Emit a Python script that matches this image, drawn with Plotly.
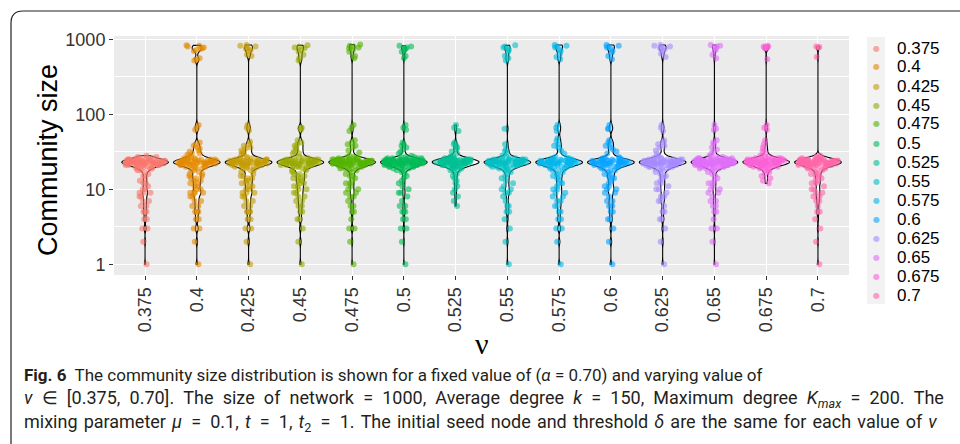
import numpy as np
import plotly.graph_objects as go

# nu values (x categories)
nu_levels = ["0.375", "0.4", "0.425", "0.45", "0.475", "0.5", "0.525",
             "0.55", "0.575", "0.6", "0.625", "0.65", "0.675", "0.7"]

# ggplot2 default hue palette for 14 groups
level_colors = ["#F8766D", "#E38900", "#C49A00", "#99A800", "#53B400", "#00BC56", "#00C094",
                "#00BFC4", "#00B6EB", "#06A4FF", "#A58AFF", "#DF70F8", "#FB61D7", "#FF66A8"]

# community sizes found for each nu
sizes_0375 = [1, 2, 3, 3, 4, 4, 5, 5, 5, 6, 6, 7, 7, 8, 8, 9, 9, 9, 10, 10, 11, 12, 12, 13, 14, 15, 16,
              17, 18, 18, 19, 19, 19, 20, 20, 20, 20, 20, 21, 21, 21, 21, 21, 21, 21, 21,
              22, 22, 22, 22, 22, 22, 22, 22, 22, 22, 22,
              23, 23, 23, 23, 23, 23, 23, 23, 23, 23, 23, 23, 23, 23,
              24, 24, 24, 24, 24, 24, 24, 24, 24, 24, 24,
              25, 25, 25, 25, 25, 25, 25, 26, 26, 26, 26, 27, 27, 28]
sizes_0400 = [1, 2, 3, 3, 4, 4, 5, 5, 5, 6, 6, 7, 7, 8, 8, 9, 9, 9, 9, 10, 10, 11, 11, 12, 12, 13, 13,
              14, 14, 15, 15, 16, 16,
              17, 18, 18, 19, 19, 20, 20, 20, 20, 21, 21, 21, 21, 21, 21,
              22, 22, 22, 22, 22, 22, 22, 22, 23, 23, 23, 23, 23, 23, 23, 23, 23, 23,
              24, 24, 24, 24, 24, 24, 24, 24, 25, 25, 25, 25, 25, 26, 26, 26, 27,
              28, 29, 30, 30, 32, 33, 35, 36, 38, 40, 42, 62, 66, 72,
              520, 540, 560, 700, 720, 740, 760, 780, 800, 820, 830]
sizes_0425 = [1, 2, 3, 3, 4, 4, 5, 5, 5, 6, 6, 7, 7, 8, 8, 9, 9, 9, 10, 10, 11, 11, 12, 12, 13, 13,
              14, 14, 15, 15, 16,
              17, 18, 18, 19, 19, 20, 20, 20, 20, 21, 21, 21, 21, 21, 21,
              22, 22, 22, 22, 22, 22, 22, 22, 23, 23, 23, 23, 23, 23, 23, 23, 23, 23,
              24, 24, 24, 24, 24, 24, 24, 24, 25, 25, 25, 25, 25, 26, 26, 26, 27,
              29, 30, 31, 33, 35, 36, 38, 40, 43, 61, 66, 72,
              600, 620, 700, 720, 750, 780, 800, 820, 840]
sizes_0450 = [1, 2, 3, 4, 4, 5, 5, 6, 6, 7, 7, 8, 8, 9, 9, 10, 10, 11, 11, 12, 12, 13, 13, 14, 14,
              15, 15, 16, 16,
              17, 18, 18, 19, 19, 20, 20, 20, 20, 21, 21, 21, 21, 21, 21,
              22, 22, 22, 22, 22, 22, 22, 22, 23, 23, 23, 23, 23, 23, 23, 23, 23, 23,
              24, 24, 24, 24, 24, 24, 24, 24, 25, 25, 25, 25, 25, 26, 26, 26, 27,
              30, 30, 32, 34, 36, 38, 40, 42, 45, 62, 66, 66,
              520, 560, 620, 680, 720, 760, 780, 800, 830]
sizes_0475 = [1, 2, 3, 3, 4, 5, 5, 6, 6, 7, 8, 8, 9, 9, 10, 10, 11, 12, 12, 13, 14, 15, 15, 16,
              17, 18, 18, 19, 19, 19, 20, 20, 20, 20, 20, 21, 21, 21, 21, 21, 21, 21, 21,
              22, 22, 22, 22, 22, 22, 22, 22, 22, 22, 22,
              23, 23, 23, 23, 23, 23, 23, 23, 23, 23, 23, 23, 23, 23,
              24, 24, 24, 24, 24, 24, 24, 24, 24, 24, 24,
              25, 25, 25, 25, 25, 25, 25, 26, 26, 26, 26, 27, 27, 28,
              31, 33, 36, 38, 40, 42, 45, 60, 66, 72,
              560, 600, 680, 720, 760, 780, 800, 820, 850]
sizes_0500 = [1, 2, 3, 3, 4, 4, 5, 5, 5, 6, 6, 7, 8, 9, 9, 10, 11, 12, 13, 14, 15, 16,
              17, 18, 18, 19, 19, 19, 19, 20, 20, 20, 20, 20, 20,
              21, 21, 21, 21, 21, 21, 21, 21, 21, 21,
              22, 22, 22, 22, 22, 22, 22, 22, 22, 22, 22, 22, 22, 22, 22,
              23, 23, 23, 23, 23, 23, 23, 23, 23, 23, 23, 23, 23, 23, 23, 23, 23, 23, 23,
              24, 24, 24, 24, 24, 24, 24, 24, 24, 24, 24, 24, 24, 24, 24,
              25, 25, 25, 25, 25, 25, 25, 25, 25, 26, 26, 26, 26, 26, 27, 27, 27, 28,
              30, 32, 34, 36, 38, 40, 42, 62, 66, 72,
              560, 600, 680, 720, 740, 760, 780, 800, 820]
sizes_0525 = [6, 7, 8, 9, 10, 11, 12, 13, 14, 15, 16,
              17, 18, 18, 19, 19, 19, 20, 20, 20, 20, 20, 21, 21, 21, 21, 21, 21, 21, 21,
              22, 22, 22, 22, 22, 22, 22, 22, 22, 22, 22, 22,
              23, 23, 23, 23, 23, 23, 23, 23, 23, 23, 23, 23, 23, 23, 23, 23,
              24, 24, 24, 24, 24, 24, 24, 24, 24, 24, 24, 24,
              25, 25, 25, 25, 25, 25, 25, 25, 26, 26, 26, 26, 26, 27, 27, 28,
              30, 32, 34, 36, 38, 40, 42, 60, 66, 72]
sizes_0550 = [1, 2, 3, 4, 5, 5, 6, 6, 7, 8, 9, 9, 10, 10, 11, 12, 13, 14, 15, 16,
              17, 18, 18, 19, 19, 19, 20, 20, 20, 20, 21, 21, 21, 21, 21, 21, 21,
              22, 22, 22, 22, 22, 22, 22, 22, 22, 22,
              23, 23, 23, 23, 23, 23, 23, 23, 23, 23, 23, 23,
              24, 24, 24, 24, 24, 24, 24, 24, 24, 24,
              25, 25, 25, 25, 25, 25, 26, 26, 26, 27, 28,
              30, 32, 34, 40, 64,
              520, 560, 600, 680, 720, 760, 780, 800, 830]
sizes_0575 = [1, 2, 3, 3, 4, 4, 5, 5, 6, 6, 7, 7, 8, 8, 9, 9, 10, 10, 11, 12, 12, 13, 14, 15, 15, 16,
              17, 18, 18, 19, 19, 20, 20, 20, 20, 21, 21, 21, 21, 21, 21,
              22, 22, 22, 22, 22, 22, 22, 22, 23, 23, 23, 23, 23, 23, 23, 23, 23, 23,
              24, 24, 24, 24, 24, 24, 24, 24, 25, 25, 25, 25, 25, 26, 26, 26, 27,
              30, 33, 36, 38, 40, 44, 48, 60, 66, 72,
              540, 580, 640, 700, 740, 780, 800, 820, 840]
sizes_0600 = [1, 2, 3, 4, 4, 5, 5, 6, 6, 7, 7, 8, 9, 9, 10, 10, 11, 11, 12, 13, 14, 14, 15, 16, 16,
              17, 18, 18, 19, 19, 20, 20, 20, 20, 21, 21, 21, 21, 21, 21,
              22, 22, 22, 22, 22, 22, 22, 22, 23, 23, 23, 23, 23, 23, 23, 23, 23, 23,
              24, 24, 24, 24, 24, 24, 24, 24, 25, 25, 25, 25, 25, 26, 26, 26, 27,
              30, 32, 34, 36, 38, 40, 42, 45, 64, 64, 72,
              540, 600, 660, 700, 740, 780, 800, 820, 840]
sizes_0625 = [1, 2, 3, 4, 4, 5, 5, 6, 7, 7, 8, 8, 9, 10, 10, 11, 12, 12, 13, 14, 15, 15, 16,
              17, 18, 18, 19, 19, 19, 20, 20, 20, 20, 21, 21, 21, 21, 21, 21, 21,
              22, 22, 22, 22, 22, 22, 22, 22, 22, 22,
              23, 23, 23, 23, 23, 23, 23, 23, 23, 23, 23, 23,
              24, 24, 24, 24, 24, 24, 24, 24, 24, 24,
              25, 25, 25, 25, 25, 25, 26, 26, 26, 27, 28,
              30, 33, 36, 38, 40, 42, 45, 60, 66, 72,
              580, 640, 700, 740, 760, 780, 800, 820, 840]
sizes_0650 = [1, 2, 3, 3, 4, 5, 5, 6, 6, 7, 7, 8, 9, 9, 10, 10, 11, 12, 12, 13, 14, 15, 16,
              17, 18, 18, 19, 19, 19, 19, 20, 20, 20, 20, 20, 20,
              21, 21, 21, 21, 21, 21, 21, 21, 21, 21,
              22, 22, 22, 22, 22, 22, 22, 22, 22, 22, 22, 22, 22, 22, 22,
              23, 23, 23, 23, 23, 23, 23, 23, 23, 23, 23, 23, 23, 23, 23, 23, 23, 23, 23,
              24, 24, 24, 24, 24, 24, 24, 24, 24, 24, 24, 24, 24, 24, 24,
              25, 25, 25, 25, 25, 25, 25, 25, 25, 26, 26, 26, 26, 26, 27, 27, 27, 28,
              30, 32, 34, 36, 40, 42, 45, 62, 64, 72,
              560, 620, 700, 740, 780, 800, 820, 840]
sizes_0675 = [12, 13, 14, 15, 16,
              17, 18, 18, 19, 19, 19, 20, 20, 20, 20, 20, 21, 21, 21, 21, 21, 21, 21, 21,
              22, 22, 22, 22, 22, 22, 22, 22, 22, 22, 22, 22,
              23, 23, 23, 23, 23, 23, 23, 23, 23, 23, 23, 23, 23, 23, 23, 23,
              24, 24, 24, 24, 24, 24, 24, 24, 24, 24, 24, 24,
              25, 25, 25, 25, 25, 25, 25, 25, 26, 26, 26, 26, 26, 27, 27, 28,
              30, 32, 34, 36, 40, 45, 62, 66, 72,
              540, 760, 760, 780, 800, 800, 820]
sizes_0700 = [1, 2, 3, 4, 5, 5, 6, 7, 7, 8, 8, 9, 9, 10, 10, 11, 12, 12, 13, 13, 14, 15, 15, 16, 16,
              17, 18, 18, 19, 19, 19, 20, 20, 20, 20, 20, 21, 21, 21, 21, 21, 21, 21, 21,
              22, 22, 22, 22, 22, 22, 22, 22, 22, 22, 22,
              23, 23, 23, 23, 23, 23, 23, 23, 23, 23, 23, 23, 23, 23,
              24, 24, 24, 24, 24, 24, 24, 24, 24, 24, 24,
              25, 25, 25, 25, 25, 25, 25, 26, 26, 26, 26, 27, 27, 28,
              580, 780, 790, 800]

all_sizes = [sizes_0375, sizes_0400, sizes_0425, sizes_0450, sizes_0475, sizes_0500, sizes_0525,
             sizes_0550, sizes_0575, sizes_0600, sizes_0625, sizes_0650, sizes_0675, sizes_0700]

y_tick_values = [1, 10, 100, 1000]
y_tick_labels = ["1", "10", "100", "1000"]

# page geometry (pixels)
W, H = 960, 444
ML, MR, MT, MB = 114, 111, 36, 169
PW, PH = W - ML - MR, H - MT - MB


def px_x(x):
    return (x - ML) / PW


def px_y(y):
    return (H - MB - y) / PH


fig = go.Figure()

# violins + jittered points, with the density estimated on the log10 scale
for level, color, sizes in zip(nu_levels, level_colors, all_sizes):
    fig.add_trace(go.Violin(
        x=[level] * len(sizes),
        y=np.log10(sizes),
        name=level,
        line=dict(color="black", width=1.1),
        fillcolor="white",
        points="all",
        pointpos=0,
        jitter=0.85,
        bandwidth=0.033,
        marker=dict(color=color, size=6, opacity=0.6, line=dict(width=0)),
        spanmode="hard",
        scalegroup="all",
        scalemode="width",
        width=0.9,
        showlegend=False,
        customdata=sizes,
        hovertemplate="ν = " + level + "<br>size = %{customdata}<extra></extra>",
    ))

log_ticks = np.log10(y_tick_values)

fig.update_layout(
    width=W, height=H, autosize=False,
    margin=dict(l=ML, r=MR, t=MT, b=MB, pad=0),
    plot_bgcolor="#EBEBEB", paper_bgcolor="white",
    violinmode="overlay", violingap=0, violingroupgap=0,
    showlegend=False,
    font=dict(family="Liberation Sans, Arial, sans-serif", color="#333333"),
    xaxis=dict(
        type="category", categoryorder="array", categoryarray=nu_levels,
        range=[-0.6, len(nu_levels) - 0.4],
        showgrid=True, gridcolor="white", gridwidth=1.4,
        ticks="outside", ticklen=4, tickwidth=1, tickcolor="#333333",
        tickangle=-90, tickfont=dict(size=18, color="#333333"),
        zeroline=False, showline=False,
    ),
    yaxis=dict(
        range=[-0.143, 3.044],
        tickmode="array", tickvals=list(log_ticks), ticktext=y_tick_labels,
        showgrid=True, gridcolor="white", gridwidth=1.4,
        minor=dict(tickmode="array", tickvals=list(log_ticks[:-1] + 0.5),
                   showgrid=True, gridcolor="white", gridwidth=0.7, ticks=""),
        ticks="outside", ticklen=4, tickwidth=1, tickcolor="#333333",
        tickfont=dict(size=18, color="#333333"),
        zeroline=False, showline=False,
    ),
)

shapes = []
# rounded frame around the figure
x0, y0, r = 11, 11, 12
frame_path = (f"M {px_x(x0)},{px_y(H + 5)} L {px_x(x0)},{px_y(y0 + r)} "
              f"Q {px_x(x0)},{px_y(y0)} {px_x(x0 + r)},{px_y(y0)} L {px_x(W + 5)},{px_y(y0)}")
shapes.append(dict(type="path", xref="paper", yref="paper", path=frame_path,
                   line=dict(color="#222222", width=1.2)))
# legend key background
shapes.append(dict(type="rect", xref="paper", yref="paper",
                   x0=px_x(867), x1=px_x(885), y0=px_y(304), y1=px_y(37),
                   fillcolor="#F2F2F2", line=dict(width=0), layer="below"))
fig.update_layout(shapes=shapes)

annotations = []
# axis titles
annotations.append(dict(text="Community size", xref="paper", yref="paper",
                        x=px_x(48), y=px_y(160), textangle=-90, showarrow=False,
                        xanchor="center", yanchor="middle",
                        font=dict(size=27, color="black")))
annotations.append(dict(text="ν", xref="paper", yref="paper",
                        x=px_x(481.5), y=px_y(343), showarrow=False,
                        xanchor="center", yanchor="middle",
                        font=dict(size=30, color="black", family="Liberation Serif, serif")))

# legend: dot + label per level
for i, (level, color) in enumerate(zip(nu_levels, level_colors)):
    yy = 48 + 19 * i
    annotations.append(dict(text="●", xref="paper", yref="paper", x=px_x(876), y=px_y(yy),
                            showarrow=False, xanchor="center", yanchor="middle", opacity=0.6,
                            font=dict(size=8, color=color, family="DejaVu Sans")))
    annotations.append(dict(text=level, xref="paper", yref="paper", x=px_x(895), y=px_y(yy),
                            showarrow=False, xanchor="left", yanchor="middle",
                            font=dict(size=17, color="black")))

# caption; lines 2-3 use wider word and relation spacing (justified, typeset math)
EN = "\u2002"
TS = "\u2004"
caption_lines = [
    "<b>Fig. 6</b>  The community size distribution is shown for a fixed value of (<i>α</i> = 0.70) and varying value of",
    (f"<i>ν</i>{EN}∈{EN}[0.375,{EN}0.70].{EN}The{EN}size{EN}of{EN}network{EN}={EN}1000,{EN}Average{EN}degree{EN}"
     f"<i>k</i>{EN}={EN}150,{EN}Maximum{EN}degree{EN}<i>K<sub>max</sub></i>{EN}={EN}200.{EN}The"),
    (f"mixing{TS}parameter{TS}<i>μ</i>{EN}={EN}0.1,{TS}<i>t</i>{EN}={EN}1,{TS}<i>t</i><sub>2</sub>{EN}={EN}1.{TS}"
     f"The{TS}initial{TS}seed{TS}node{TS}and{TS}threshold{TS}<i>δ</i>{TS}are{TS}the{TS}same{TS}for{TS}each{TS}"
     f"value{TS}of{TS}<i>ν</i>"),
]
caption_sizes = [17, 18, 18]
for line, size, yy in zip(caption_lines, caption_sizes, [375, 399, 423]):
    annotations.append(dict(text=line, xref="paper", yref="paper", x=px_x(22), y=px_y(yy),
                            showarrow=False, xanchor="left", yanchor="middle",
                            font=dict(size=size, color="#231F20", family="Roboto, sans-serif")))

fig.update_layout(annotations=annotations)

fig.write_html("out.html")
